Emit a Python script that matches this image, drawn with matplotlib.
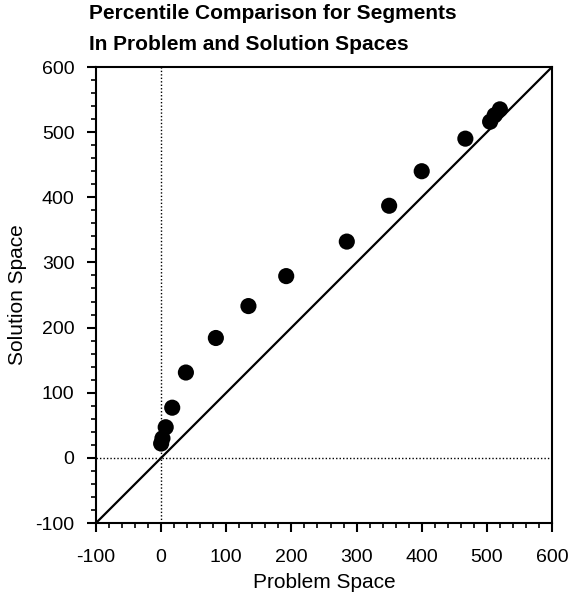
import matplotlib
matplotlib.use("Agg")
import matplotlib.pyplot as plt
from matplotlib.ticker import MultipleLocator

plt.rcParams['font.family'] = ['Liberation Sans', 'DejaVu Sans']
plt.rcParams['axes.unicode_minus'] = False

problem = [0, 2, 7, 17, 38, 84, 134, 192, 285, 350, 400, 467, 505, 512, 520]
solution = [22, 30, 47, 77, 131, 184, 233, 279, 332, 387, 440, 490, 516, 526, 535]
ticks = [-100, 0, 100, 200, 300, 400, 500, 600]
title_lines = ["Percentile Comparison for Segments", "In Problem and Solution Spaces"]

fig = plt.figure(figsize=(5.73, 5.98), dpi=100)
ax = fig.add_axes([96/573, 1-523/598, 456/573, 456/598])

ax.plot([-100, 600], [-100, 600], color='black', lw=1.6, zorder=2)
ax.axvline(0, color='black', lw=1.0, ls=(0, (1, 1.5)), zorder=1)
ax.axhline(0, color='black', lw=1.0, ls=(0, (1, 1.5)), zorder=1)
ax.scatter(problem, solution, s=135, color='black', zorder=3, edgecolors='none')

ax.set_xlim(-100, 600)
ax.set_ylim(-100, 600)
ax.set_xticks(ticks)
ax.set_yticks(ticks)
ax.xaxis.set_minor_locator(MultipleLocator(20))
ax.yaxis.set_minor_locator(MultipleLocator(20))
ax.tick_params(which='major', direction='out', length=6.5, width=1.5, labelsize=14)
ax.tick_params(axis='x', which='major', pad=12)
ax.tick_params(axis='y', which='major', pad=9)
ax.tick_params(which='minor', direction='out', length=3.3, width=1.2)
for s in ax.spines.values():
    s.set_linewidth(1.5)

ax.set_xlabel("Problem Space", fontsize=15)
ax.set_ylabel("Solution Space", fontsize=15)
ax.xaxis.set_label_coords(0.5, (523-573)/456)
ax.yaxis.set_label_coords((27-96)/456, 0.5)

fig.text(89/573, 1-19/598, title_lines[0], fontsize=15, fontweight='bold',
         ha='left', va='baseline')
fig.text(89/573, 1-50/598, title_lines[1], fontsize=15, fontweight='bold',
         ha='left', va='baseline')

fig.savefig("out.png", dpi=100)
